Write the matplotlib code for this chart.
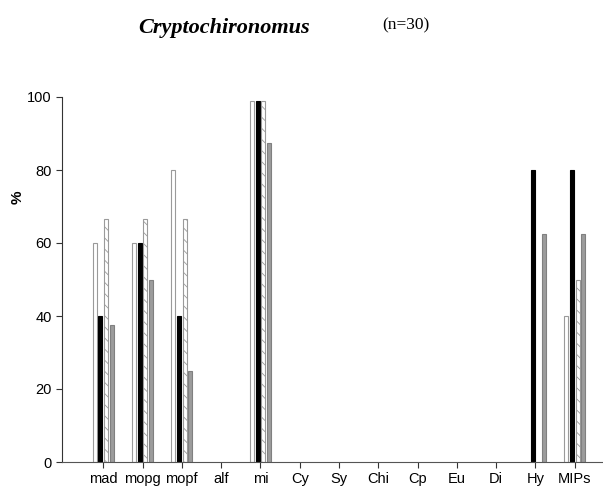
import matplotlib
matplotlib.use("Agg")
import matplotlib.pyplot as plt
import numpy as np

cats = ['mad', 'mopg', 'mopf', 'alf', 'mi', 'Cy', 'Sy', 'Chi', 'Cp', 'Eu', 'Di', 'Hy', 'MIPs']
s_white = [60, 60, 80, 0, 99, 0, 0, 0, 0, 0, 0, 0, 40]
s_black = [40, 60, 40, 0, 99, 0, 0, 0, 0, 0, 0, 80, 80]
s_hatch = [66.7, 66.7, 66.7, 0, 99, 0, 0, 0, 0, 0, 0, 0, 50]
s_gray = [37.5, 50, 25, 0, 87.5, 0, 0, 0, 0, 0, 0, 62.5, 62.5]

plt.rcParams['hatch.linewidth'] = 0.6
plt.rcParams['hatch.color'] = '#808080'

fig = plt.figure(figsize=(6.03, 4.96), dpi=100)
ax = fig.add_axes([62/603, 34/496, 1 - 62/603, 365/496])

x = np.arange(len(cats))
w = 0.1
step = 0.145

def bars(vals, k, **kw):
    v = np.array(vals, dtype=float)
    m = v > 0
    ax.bar(x[m] + (k - 1.5) * step, v[m], width=w, linewidth=0.8, **kw)

bars(s_white, 0, color='white', edgecolor='#9a9a9a')
bars(s_black, 1, color='black', edgecolor='black')
bars(s_hatch, 2, color='white', edgecolor='#9a9a9a', hatch='\\\\\\')
bars(s_gray, 3, color='#9c9c9c', edgecolor='#808080')

ax.set_xlim(-1.05, 12.72)
ax.set_ylim(0, 100)
ax.set_yticks([0, 20, 40, 60, 80, 100])
ax.set_xticks(x)
ax.set_xticklabels(cats, fontsize=10.5, family='Liberation Sans')
for t in ax.get_yticklabels():
    t.set_fontsize(10.5)
    t.set_family('Liberation Sans')
ax.tick_params(direction='out', length=4, width=0.8, colors='#333333', labelcolor='black')
ax.spines['top'].set_visible(False)
ax.spines['right'].set_visible(False)
ax.spines['left'].set_color('#333333')
ax.spines['bottom'].set_color('#555555')

fig.text(18/603, 1 - 197/496, '%', fontsize=11, fontweight='bold', family='Liberation Sans',
         rotation=90, ha='center', va='center')

fig.text(224/603, 1 - 28/496, 'Cryptochironomus', fontsize=16, fontweight='bold',
         fontstyle='italic', family='Liberation Serif', ha='center', va='center')
fig.text(406/603, 1 - 25/496, '(n=30)', fontsize=12.5, family='Liberation Serif',
         ha='center', va='center')

fig.savefig('out.png', dpi=100)
